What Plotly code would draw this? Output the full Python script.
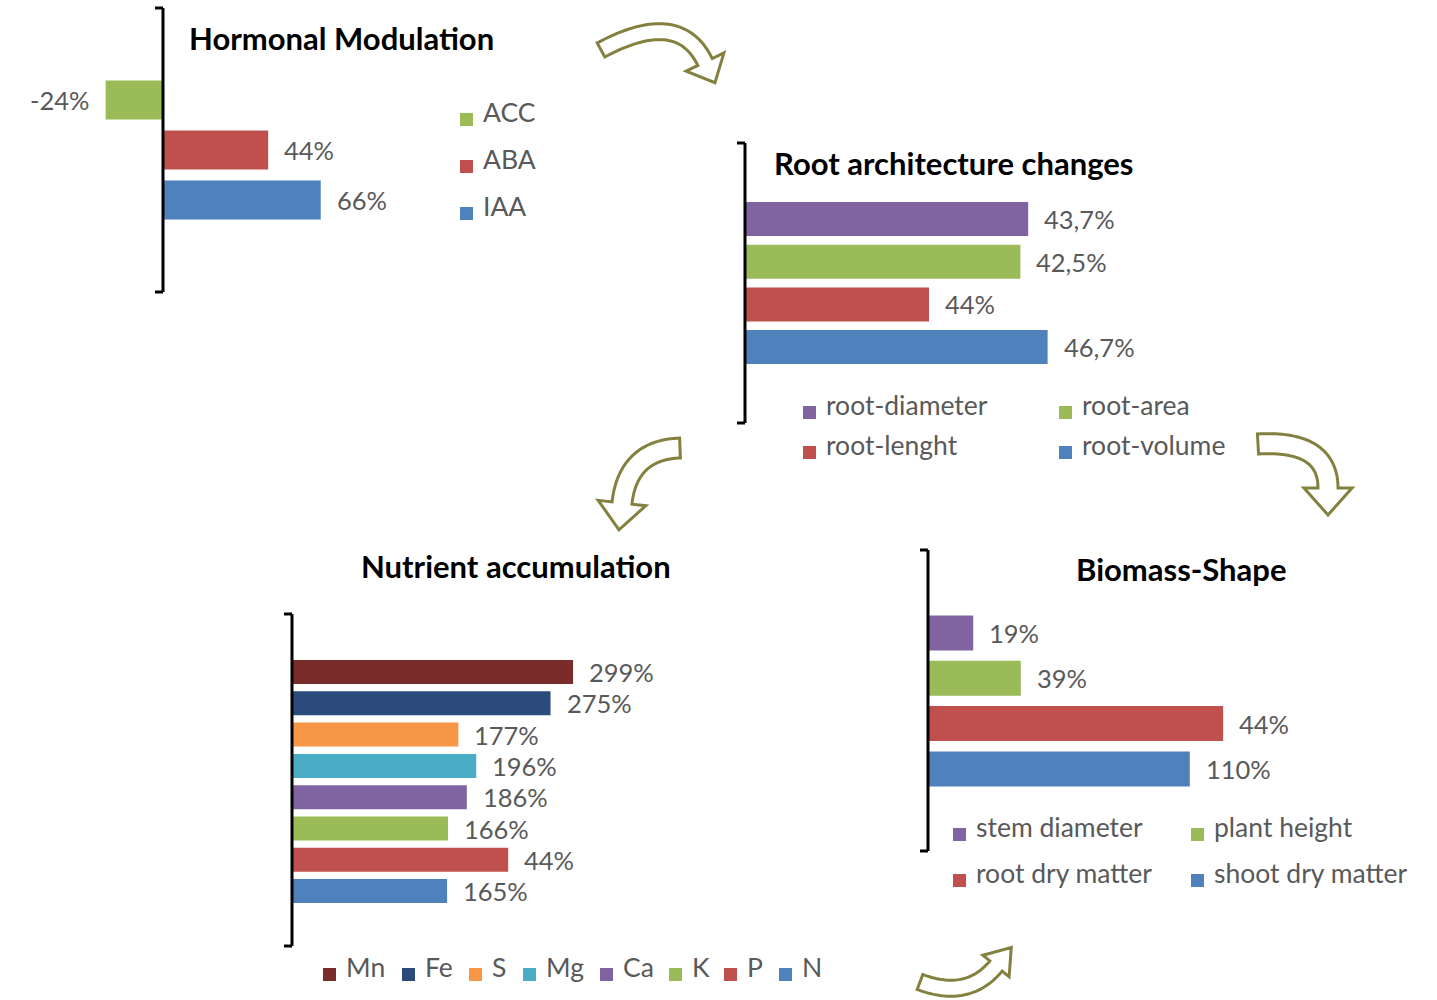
import numpy as np
import plotly.graph_objects as go

W, H = 1437, 1000

# ---------------- data ----------------
horm_cats = ["ACC", "ABA", "IAA"]
horm_vals = [-24, 44, 66]
horm_labels = ["-24%", "44%", "66%"]

root_cats = ["root-diameter", "root-area", "root-lenght", "root-volume"]
root_vals = [43.7, 42.5, 28.4, 46.7]          # bar lengths as drawn
root_labels = ["43,7%", "42,5%", "44%", "46,7%"]

nutr_cats = ["Mn", "Fe", "S", "Mg", "Ca", "K", "P", "N"]
nutr_vals = [299, 275, 177, 196, 186, 166, 230, 165]   # bar lengths as drawn
nutr_labels = ["299%", "275%", "177%", "196%", "186%", "166%", "44%", "165%"]

bio_cats = ["stem diameter", "plant height", "root dry matter", "shoot dry matter"]
bio_vals = [19, 39, 124, 110]                 # bar lengths as drawn
bio_labels = ["19%", "39%", "44%", "110%"]

titles = ["Hormonal Modulation", "Root architecture changes",
          "Nutrient accumulation", "Biomass-Shape"]

# ---------------- styles ----------------
GREEN, RED, BLUE = "#9BBB59", "#C0504D", "#4F81BD"
PURPLE, AQUA, ORANGE = "#8064A2", "#4BACC6", "#F79646"
NAVY, DARKRED = "#2A4B7C", "#7A2C2A"
FONT = "Lato"
GRAY = "#595959"

panels = [
    dict(cats=horm_cats, vals=horm_vals, labels=horm_labels,
         colors=[GREEN, RED, BLUE],
         zero=163, scale=2.39, c0=100, sp=50, bh=39, ytop=8, ybot=292, xl=20, xr=440,
         title_xy=(187, 38),
         legend=[(460, 113), (460, 160), (460, 207)]),
    dict(cats=root_cats, vals=root_vals, labels=root_labels,
         colors=[PURPLE, GREEN, RED, BLUE],
         zero=745, scale=6.48, c0=219, sp=42.7, bh=34, ytop=143, ybot=423, xl=745, xr=1200,
         title_xy=(772, 163),
         legend=[(803, 406), (1059, 406), (803, 446), (1059, 446)]),
    dict(cats=nutr_cats, vals=nutr_vals, labels=nutr_labels,
         colors=[DARKRED, NAVY, ORANGE, AQUA, PURPLE, GREEN, RED, BLUE],
         zero=292, scale=0.94, c0=672, sp=31.3, bh=24, ytop=614, ybot=946, xl=292, xr=700,
         title_xy=(359, 566),
         legend=[(323, 968), (402, 968), (469, 968), (523, 968), (600, 968),
                 (669, 968), (724, 968), (779, 968)]),
    dict(cats=bio_cats, vals=bio_vals, labels=bio_labels,
         colors=[PURPLE, GREEN, RED, BLUE],
         zero=928, scale=2.38, c0=633, sp=45.3, bh=35, ytop=550, ybot=851, xl=928, xr=1400,
         title_xy=(1074, 569),
         legend=[(953, 828), (1191, 828), (953, 874), (1191, 874)]),
]


def px(x):
    return x / W


def py(y):
    return 1 - y / H


fig = go.Figure()
shapes = []
annotations = []
layout_axes = {}

for i, p in enumerate(panels, start=1):
    xa = "x" if i == 1 else f"x{i}"
    ya = "y" if i == 1 else f"y{i}"
    fig.add_trace(go.Bar(
        y=p["cats"], x=p["vals"], orientation="h",
        marker=dict(color=p["colors"], line=dict(width=0)),
        width=p["bh"] / p["sp"], xaxis=xa, yaxis=ya,
        showlegend=False, hoverinfo="skip"))
    xr = [(p["xl"] - p["zero"]) / p["scale"], (p["xr"] - p["zero"]) / p["scale"]]
    yr = [(p["ybot"] - p["c0"]) / p["sp"], (p["ytop"] - p["c0"]) / p["sp"]]
    kx = "xaxis" if i == 1 else f"xaxis{i}"
    ky = "yaxis" if i == 1 else f"yaxis{i}"
    layout_axes[kx] = dict(domain=[px(p["xl"]), px(p["xr"])], range=xr, visible=False,
                           anchor=ya, fixedrange=True)
    layout_axes[ky] = dict(domain=[py(p["ybot"]), py(p["ytop"])], range=yr, visible=False,
                           type="category", anchor=xa, fixedrange=True)

    # value labels
    for c, v, t in zip(p["cats"], p["vals"], p["labels"]):
        annotations.append(dict(
            x=v, y=c, xref=xa, yref=ya, text=t, showarrow=False,
            xanchor="left" if v >= 0 else "right", xshift=14 if v >= 0 else -14,
            yanchor="middle", font=dict(family=FONT, size=25.5, color=GRAY)))

    # bracket ("]")
    z = p["zero"]
    for (x0, y0, x1, y1) in [(z, p["ytop"], z, p["ybot"]),
                             (z - 8, p["ytop"], z, p["ytop"]),
                             (z - 8, p["ybot"], z, p["ybot"])]:
        shapes.append(dict(type="line", xref="paper", yref="paper",
                           x0=px(x0), y0=py(y0), x1=px(x1), y1=py(y1),
                           line=dict(color="black", width=3)))

    # title
    tx, ty = p["title_xy"]
    annotations.append(dict(x=px(tx), y=py(ty), xref="paper", yref="paper",
                            text=f"<b>{titles[i-1]}</b>", showarrow=False,
                            xanchor="left", yanchor="middle",
                            font=dict(family=FONT, size=31, color="black")))

    # legend
    for (lx, lyy), c, col in zip(p["legend"], p["cats"], p["colors"]):
        shapes.append(dict(type="rect", xref="paper", yref="paper",
                           x0=px(lx), x1=px(lx + 13), y0=py(lyy), y1=py(lyy + 13),
                           fillcolor=col, line=dict(width=0)))
        annotations.append(dict(x=px(lx + 21), y=py(lyy - 1), xref="paper", yref="paper",
                                text=c, showarrow=False, xanchor="left", yanchor="middle",
                                font=dict(family=FONT, size=26.5, color=GRAY)))


# ---------------- curved block arrows (decoration) ----------------
def arrow_path(P0, P1, P2, hw, hh, hl, n=40):
    P0, P1, P2 = map(np.array, (P0, P1, P2))
    s = np.linspace(0, 1, n)[:, None]
    pts = (1 - s) ** 2 * P0 + 2 * s * (1 - s) * P1 + s ** 2 * P2
    tan = 2 * (1 - s) * (P1 - P0) + 2 * s * (P2 - P1)
    tan = tan / np.linalg.norm(tan, axis=1)[:, None]
    nor = np.stack([-tan[:, 1], tan[:, 0]], axis=1)
    left = pts + nor * hw
    right = pts - nor * hw
    te, ne = tan[-1], nor[-1]
    tip = P2 + te * hl
    poly = list(left) + [P2 + ne * hh, tip, P2 - ne * hh] + list(right[::-1])
    d = "M " + " L ".join(f"{px(x):.5f},{py(y):.5f}" for x, y in poly) + " Z"
    return d


arrows = [
    ((601, 50), (679, 8), (705, 62), 8, 21, 23),
    ((680, 448), (628, 450), (622, 503), 10, 24, 27),
    ((1258, 444), (1328, 440), (1328, 488), 10, 24, 27),
    ((920, 982), (968, 1000), (996, 966), 8, 17, 24),
]
for a in arrows:
    shapes.append(dict(type="path", xref="paper", yref="paper", path=arrow_path(*a),
                       fillcolor="white", line=dict(color="#84803f", width=3)))

fig.update_layout(
    width=W, height=H, margin=dict(l=0, r=0, t=0, b=0),
    paper_bgcolor="white", plot_bgcolor="rgba(0,0,0,0)",
    showlegend=False, barmode="overlay",
    shapes=shapes, annotations=annotations,
    **layout_axes)

fig.write_html("out.html")
